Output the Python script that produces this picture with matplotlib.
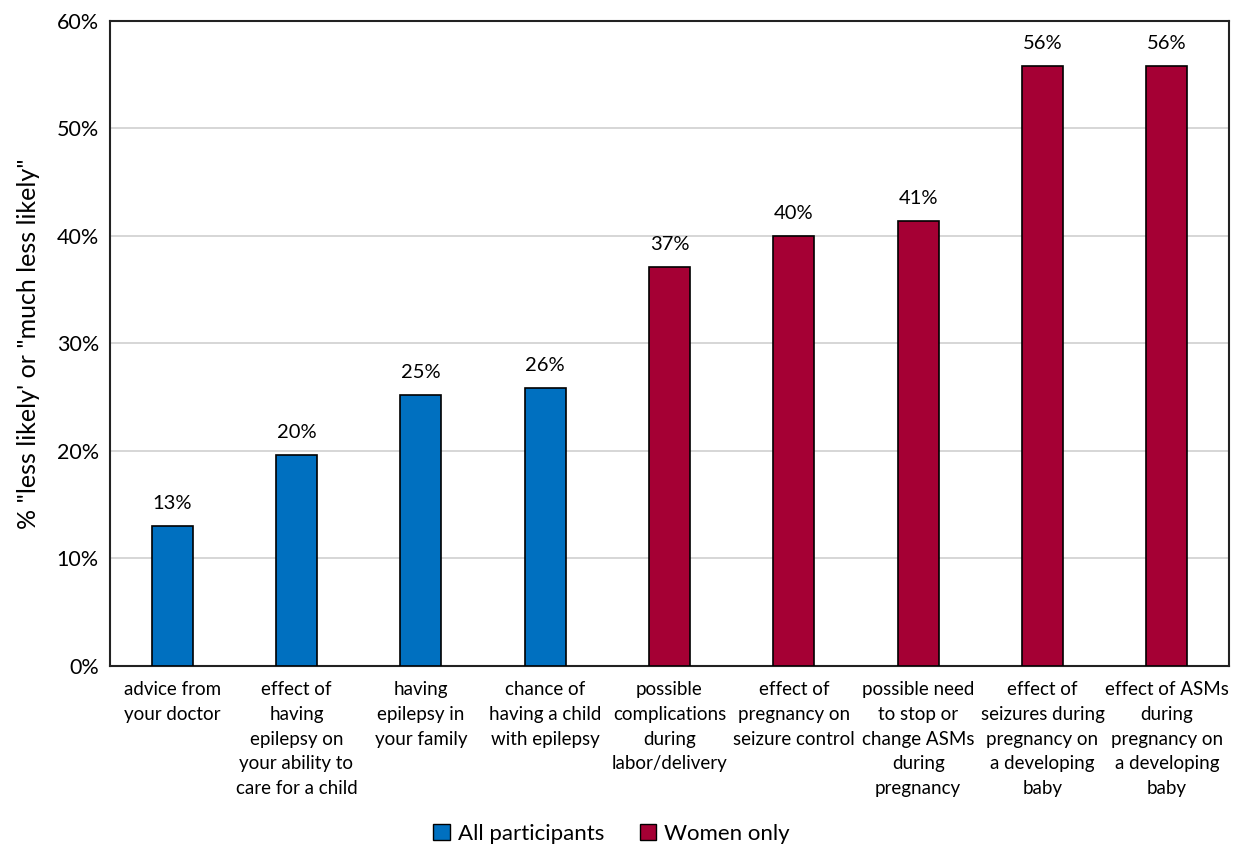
import matplotlib.pyplot as plt
from matplotlib.patches import Patch

# Data
categories = [
    'advice from\nyour doctor',
    'effect of\nhaving\nepilepsy on\nyour ability to\ncare for a child',
    'having\nepilepsy in\nyour family',
    'chance of\nhaving a child\nwith epilepsy',
    'possible\ncomplications\nduring\nlabor/delivery',
    'effect of\npregnancy on\nseizure control',
    'possible need\nto stop or\nchange ASMs\nduring\npregnancy',
    'effect of\nseizures during\npregnancy on\na developing\nbaby',
    'effect of ASMs\nduring\npregnancy on\na developing\nbaby',
]
values = [13.0, 19.6, 25.2, 25.9, 37.1, 40.0, 41.4, 55.8, 55.8]
groups = ['All participants'] * 4 + ['Women only'] * 5
group_colors = {'All participants': '#0070C0', 'Women only': '#A50034'}

plt.rcParams['font.family'] = ['Lato', 'DejaVu Sans']

fig = plt.figure(figsize=(12.43, 8.5), dpi=100)
ax = fig.add_axes([0.0885, 0.2165, 0.9002, 0.7588])

x = range(len(categories))
bars = ax.bar(x, values, width=0.33, color=[group_colors[g] for g in groups],
              edgecolor='black', linewidth=1.2, zorder=3)
for b, v in zip(bars, values):
    ax.text(b.get_x() + b.get_width() / 2, v + 1.3, f'{v:.0f}%',
            ha='center', va='bottom', fontsize=14.5)

ax.set_xlim(-0.5, len(categories) - 0.5)
ax.set_ylim(0, 60)
ax.set_yticks(range(0, 61, 10))
ax.set_yticklabels([f'{t}%' for t in range(0, 61, 10)], fontsize=15.5)
ax.set_xticks(list(x))
ax.set_xticklabels(categories, fontsize=13.5, linespacing=1.55, va='top')
ax.tick_params(axis='both', length=0, pad=8)
ax.tick_params(axis='x', pad=11)
ax.yaxis.grid(True, color='#D0D0D0', linewidth=1.2, zorder=0)
for s in ax.spines.values():
    s.set_linewidth(1.5)
    s.set_color('#222222')
ax.set_ylabel('% "less likely\' or "much less likely"', fontsize=18, labelpad=12)

handles = [Patch(facecolor=c, edgecolor='black', label=g) for g, c in group_colors.items()]
fig.legend(handles=handles, loc='lower center', bbox_to_anchor=(0.492, -0.016), ncol=2,
           frameon=False, fontsize=16, handlelength=0.75, handleheight=0.75,
           handletextpad=0.35, columnspacing=1.6)

plt.savefig('out.png', dpi=100)
plt.close()
